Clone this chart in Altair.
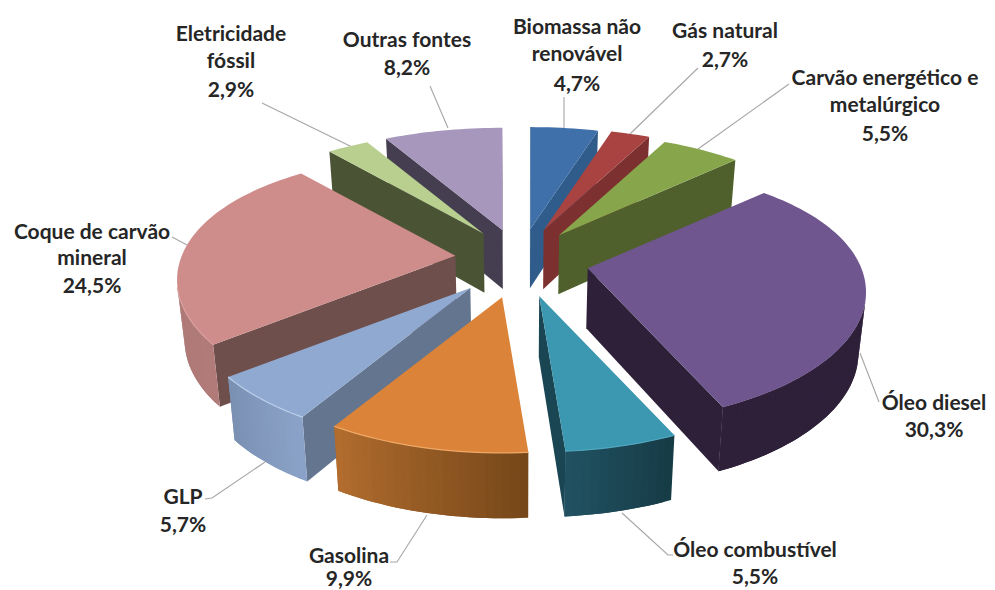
import math
import altair as alt

# ---- values
categories = ["Biomassa não renovável", "Gás natural", "Carvão energético e metalúrgico", "Óleo diesel",
              "Óleo combustível", "Gasolina", "GLP", "Coque de carvão mineral", "Eletricidade fóssil", "Outras fontes"]
shares = [4.7, 2.7, 5.5, 30.3, 5.5, 9.9, 5.7, 24.5, 2.9, 8.2]
share_labels = ["4,7%", "2,7%", "5,5%", "30,3%", "5,5%", "9,9%", "5,7%", "24,5%", "2,9%", "8,2%"]

# ---- styles
top_colors = ["#3F70A9", "#A84341", "#87A64C", "#6F568E", "#3C97B0", "#DB8338", "#90A9D1", "#CE8D8B", "#B8CF90", "#A797BD"]
radial_colors = ["#2F5C8A", "#7C302F", "#4F602C", "#2E2039", "#1A4654", "#64758F", "#64758F", "#6F4F4C", "#4A5435", "#443E50"]
wall_from = ["#2F5C8A", "#7C302F", "#4F602C", "#2E2039", "#163B45", "#754719", "#8BA3C8", "#B07B79", "#4A5435", "#443E50"]
wall_to = ["#2F5C8A", "#7C302F", "#4F602C", "#2E2039", "#215262", "#B26D2E", "#7A90B3", "#A87472", "#4A5435", "#443E50"]
rim_colors = [None, None, None, None, "#4FA6BE", "#EFA866", "#BCD0EC", "#D9A09E", None, None]

# ---- layout of the 3-D projection
W, H = 979, 582
CX, CY, R, EXPLODE, TILT, PERSP, DEPTH = 513, 258, 273.6, 69, 0.465, 0.183, 60
OX, OY = 8, 8
# small per-slice shifts of the exploded pieces
nudge_x = [-1, -3, -3, -1, 1, -3, -5, 3, 2, -1]
nudge_y = [-5, -6, -5, -4, -1, 0, -2, -7, -6, -5]


def mix(c0, c1, t):
    a = [int(c0[i:i + 2], 16) for i in (1, 3, 5)]
    b = [int(c1[i:i + 2], 16) for i in (1, 3, 5)]
    return "#%02x%02x%02x" % tuple(round(x + (y - x) * t) for x, y in zip(a, b))


def below(p):
    v = (p[1] - CY) / (R * TILT)
    return (p[0] + (CX - p[0]) * 0.022, p[1] + DEPTH * (1 + 0.06 * v))


def rim(ax, ay, ang):
    v = -math.cos(ang)
    s = 1 / (1 - PERSP * v)
    tilt = TILT * (1 + 0.05 * min(v, 0))
    return (ax + R * s * math.sin(ang), ay + tilt * R * s * v)


def poly(pts, color):
    ring = [list(p) for p in pts] + [list(pts[0])]
    return {"type": "Feature", "geometry": {"type": "Polygon", "coordinates": [ring]},
            "properties": {"color": color}}


def area(pts):
    return sum(pts[i][0] * pts[(i + 1) % len(pts)][1] - pts[(i + 1) % len(pts)][0] * pts[i][1]
               for i in range(len(pts))) / 2


total = sum(shares)
pieces = []
rim_layers = []
start = 0.0
for i, share in enumerate(shares):
    a0 = start / total * 2 * math.pi
    a1 = (start + share) / total * 2 * math.pi
    start += share
    mid = (a0 + a1) / 2
    ax = CX + EXPLODE * math.sin(mid) + nudge_x[i]
    ay = CY - TILT * EXPLODE * math.cos(mid) + nudge_y[i]
    n = max(6, int(share * 2.5))
    arc = [rim(ax, ay, a0 + (a1 - a0) * k / n) for k in range(n + 1)]
    apex = (ax, ay)
    feats = []
    # side faces, hidden ones dropped by their on-screen winding
    for A, B in [(apex, arc[0]), (arc[-1], apex)]:
        q = [A, B, below(B), below(A)]
        if area(q) < 0:
            feats.append(poly(q, radial_colors[i]))
    visible = [k for k in range(n)
               if area([arc[k], arc[k + 1], below(arc[k + 1]), below(arc[k])]) < 0]
    for k in visible:
        # each strip reaches under the next one, so no seam shows between them
        end = min(k + 2, visible[-1] + 1)
        upper = arc[k:end + 1]
        lower = [below(p) for p in reversed(upper)]
        feats.append(poly(upper + lower, mix(wall_from[i], wall_to[i], (k + 0.5) / n)))
    feats.append(poly([apex] + arc, top_colors[i]))
    depth = ay + TILT * R * 0.5 * -math.cos(mid)
    pieces.append((depth, feats))
    if rim_colors[i]:
        rim_pts = [arc[k] for k in range(n + 1) if k in visible or k - 1 in visible]
        rim_layers.append((rim_colors[i], [{"type": "Feature", "properties": {},
                           "geometry": {"type": "LineString", "coordinates": [list(p) for p in rim_pts]}}]))

pieces.sort(key=lambda t: t[0])
features = [f for _, feats in pieces for f in feats]

# ---- leader lines (page pixels)
leaders = [
    [(564, 128), (564, 97)],
    [(630, 134), (698, 68)],
    [(698, 149), (789, 84)],
    [(860, 353), (879, 402)],
    [(622, 513), (668, 555), (673, 555)],
    [(427, 515), (397, 562), (390, 562)],
    [(265, 462), (212, 498), (205, 499)],
    [(187, 245), (172, 237)],
    [(352, 147), (262, 103)],
    [(448, 128), (430, 86)],
]
leader_features = [{"type": "Feature", "properties": {},
                    "geometry": {"type": "LineString",
                                 "coordinates": [[x - OX, y - OY] for x, y in line]}} for line in leaders]

# ---- labels: text, centre x, baseline y (page pixels)
label_rows = [
    (["Biomassa não", "renovável", share_labels[0]], 577, [34, 61, 91]),
    (["Gás natural", share_labels[1]], 725, [38, 67]),
    (["Carvão energético e", "metalúrgico", share_labels[2]], 885, [85, 112, 141]),
    (["Óleo diesel", share_labels[3]], 934, [410, 437]),
    (["Óleo combustível", share_labels[4]], 755, [557, 584]),
    (["Gasolina", share_labels[5]], 349, [563, 586]),
    (["GLP", share_labels[6]], 183, [504, 532]),
    (["Coque de carvão", "mineral", share_labels[7]], 92, [239, 265, 293]),
    (["Eletricidade", "fóssil", share_labels[8]], 231, [41, 68, 97]),
    (["Outras fontes", share_labels[9]], 407, [47, 75]),
]
label_data = [{"t": t, "x": x - OX, "y": y - OY}
              for texts, x, ys in label_rows for t, y in zip(texts, ys)]

proj = dict(type="identity", scale=1, translate=[0, 0])

slices = alt.Chart(alt.Data(values=features)).mark_geoshape(
    strokeWidth=0, opacity=1, fillOpacity=1
).encode(
    fill=alt.Fill("properties.color:N", scale=None),
).project(**proj)

rims = [
    alt.Chart(alt.Data(values=rf)).mark_geoshape(filled=False, stroke=col, strokeWidth=1.2, opacity=1).project(**proj)
    for col, rf in rim_layers
]

lines = alt.Chart(alt.Data(values=leader_features)).mark_geoshape(
    filled=False, stroke="#A6A6A6", strokeWidth=1.1
).project(**proj)

texts = alt.Chart(alt.Data(values=label_data)).mark_text(
    font="Lato", fontWeight="bold", fontSize=21, color="#262626", align="center", baseline="alphabetic"
).encode(
    x=alt.X("x:Q", scale=None, axis=None),
    y=alt.Y("y:Q", scale=None, axis=None),
    text="t:N",
)

chart = alt.layer(lines, slices, *rims, texts).properties(
    width=W, height=H, padding=0, autosize=alt.AutoSizeParams(type="none"), background="white"
).configure_view(stroke=None)

chart.save("out.html", embed_options={"renderer": "svg", "actions": False})
